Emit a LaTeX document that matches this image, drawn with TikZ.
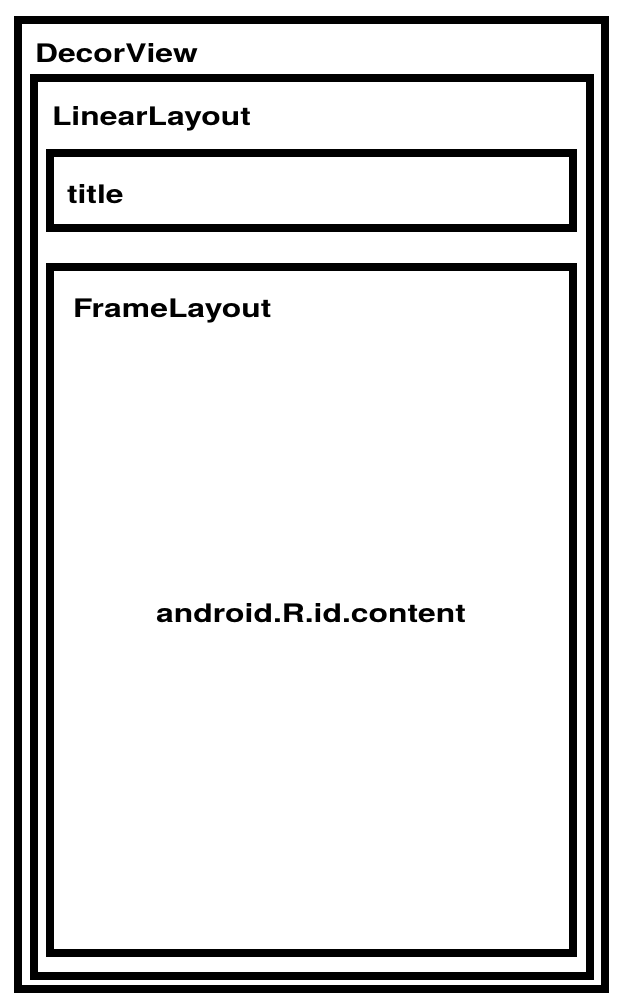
\documentclass[tikz,border=0pt]{standalone}
\usepackage{fontspec}
\setmainfont{TeX Gyre Heros}
\begin{document}
\begin{tikzpicture}[x=1pt,y=-1pt,
  layoutbox/.style={draw=black, line width=8pt, fill=none, inner sep=0pt, outer sep=0pt},
  lbl/.style={inner sep=0pt, outer sep=0pt, font=\fontsize{25.5}{30}\selectfont\bfseries}]
  \useasboundingbox[fill=white] (0,0) rectangle (626,1006);
  % nested view containers
  \node[layoutbox, minimum width=587pt, minimum height=969pt] (decor) at (311.5,504.5) {};
  \node[layoutbox, minimum width=555.5pt, minimum height=898pt] (linear) at (311.75,527) {};
  \node[layoutbox, minimum width=523pt, minimum height=75pt] (title) at (311.5,190.5) {};
  \node[layoutbox, minimum width=523pt, minimum height=686pt] (frame) at (311.5,610) {};
  % labels
  \node[lbl, anchor=base west] (decorlbl) at (35,63) {\scalebox{1.25}[1]{DecorView}};
  \node[lbl, anchor=base west] (linearlbl) at (52,126) {\scalebox{1.25}[1]{LinearLayout}};
  \node[lbl, anchor=base west] (titlelbl) at (67,203) {\scalebox{1.25}[1]{title}};
  \node[lbl, anchor=base west] (framelbl) at (73,317) {\scalebox{1.25}[1]{FrameLayout}};
  \node[lbl, anchor=base] (contentlbl) at (311,622) {\scalebox{1.25}[1]{android.R.id.content}};
\end{tikzpicture}
\end{document}
